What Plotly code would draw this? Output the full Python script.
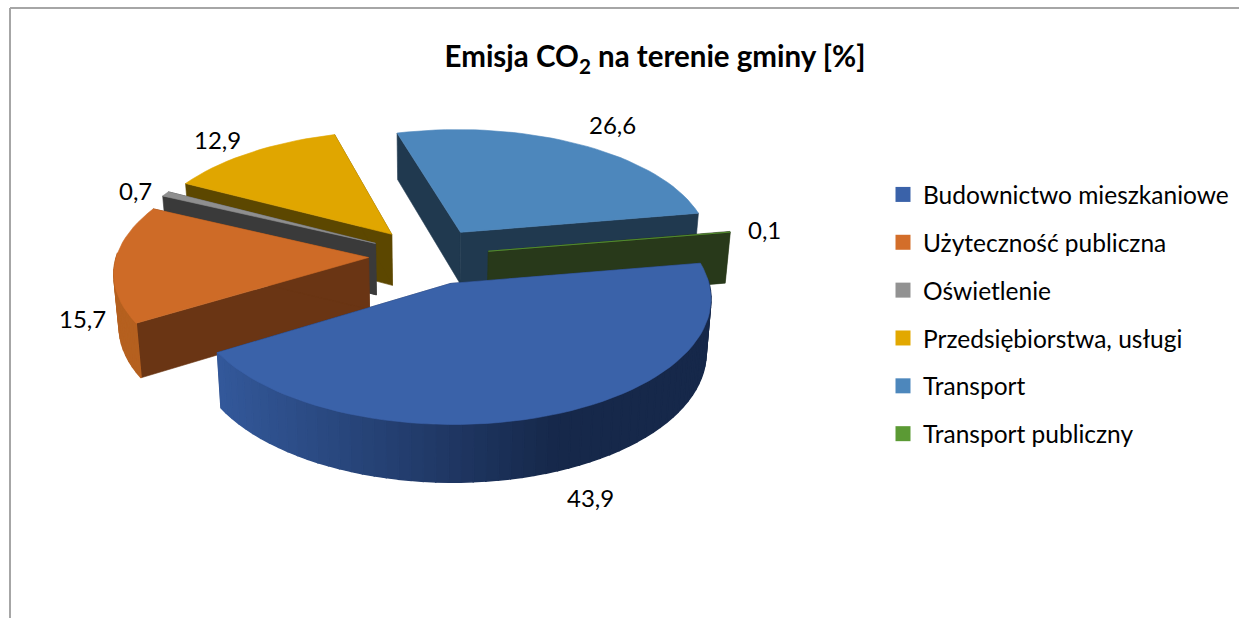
import math
import plotly.graph_objects as go

# ---- data ----
categories = ["Budownictwo mieszkaniowe", "Użyteczność publiczna", "Oświetlenie",
              "Przedsiębiorstwa, usługi", "Transport", "Transport publiczny"]
values = [43.9, 15.7, 0.7, 12.9, 26.6, 0.1]
title_text = "Emisja CO<sub>2</sub> na terenie gminy [%]"

# ---- styles ----
top_colors = ["#3A62A9", "#CE6B27", "#8F8F8F", "#E0A600", "#4D87BC", "#5B9A34"]
wall_colors = ["#1A2E55", "#6A3514", "#3A3A3A", "#5C4700", "#20394F", "#28391A"]
outer_colors = ["#1A2E55", "#B5601F", "#3A3A3A", "#5C4700", "#20394F", "#28391A"]
legend_colors = ["#3A62A9", "#D36E2A", "#929292", "#E2A800", "#4D87BC", "#5B9A34"]
label_xy = [(590, 497), (82, 318), (135, 190), (217, 139), (612, 124), (764, 229)]

# ---- projection ----
CX, CY, A, B, K = 429, 256, 252, 119, 0.11
EXPLODE = 0.24
START_DEG = 9.5
DEPTH = 52


def proj(X, Y):
    s = 1 / (1 + K * Y)
    return CX + A * X * s, CY - B * Y * s


def lower(X, Y):
    x, y = proj(X, Y)
    return CX + (x - CX) * 0.983, y + DEPTH * (1 - 0.09 * Y)


def mix(c1, c2, t):
    a = [int(c1[i:i + 2], 16) for i in (1, 3, 5)]
    b = [int(c2[i:i + 2], 16) for i in (1, 3, 5)]
    return "#%02x%02x%02x" % tuple(round(p + (q - p) * t) for p, q in zip(a, b))


fig = go.Figure()


def poly(pts, color, lw=0.6):
    xs = [p[0] for p in pts] + [pts[0][0]]
    ys = [p[1] for p in pts] + [pts[0][1]]
    fig.add_trace(go.Scatter(x=xs, y=ys, mode="lines", fill="toself", fillcolor=color,
                             line=dict(color=color, width=lw), hoverinfo="skip",
                             showlegend=False))


# ---- slices (paint order: back to front) ----
total = sum(values)
spans = []
a0 = START_DEG
for v in values:
    a1 = a0 - 360 * v / total
    spans.append((a0, a1))
    a0 = a1

for i in [4, 3, 2, 1, 5, 0]:
    a0, a1 = spans[i]
    mid = math.radians((a0 + a1) / 2)
    ox, oy = EXPLODE * math.cos(mid), EXPLODE * math.sin(mid)
    n = max(3, int(abs(a1 - a0) / 2.5))
    angs = [math.radians(a0 + (a1 - a0) * j / n) for j in range(n + 1)]
    rim = [(ox + math.cos(t), oy + math.sin(t)) for t in angs]
    apex = (ox, oy)
    # radial walls
    for end in (rim[0], rim[-1]):
        poly([proj(*apex), proj(*end), lower(*end), lower(*apex)], wall_colors[i])
    # outer wall: only the front-facing part of the rim is visible
    for j in range(n):
        if math.sin(angs[j]) > 0 and math.sin(angs[j + 1]) > 0:
            continue
        p, q = rim[j], rim[j + 1]
        xm = proj(*p)[0]
        if i == 0:
            col = mix("#33589A", "#16284A", min(1, max(0, (xm - 222) / 340)))
        else:
            col = outer_colors[i]
        poly([proj(*p), proj(*q), lower(*q), lower(*p)], col, lw=1.5)
    # top surface
    poly([proj(*apex)] + [proj(*r) for r in rim], top_colors[i])

# ---- legend entries ----
for name, col in zip(categories, legend_colors):
    fig.add_trace(go.Scatter(x=[None], y=[None], mode="markers", name=name, legendgroup=name,
                             marker=dict(symbol="square", size=15, color=col)))

# ---- data labels ----
for v, (lx, ly) in zip(values, label_xy):
    fig.add_annotation(x=lx, y=ly, text=f"{v:.1f}".replace(".", ","), showarrow=False,
                       font=dict(family="Lato", size=24, color="#000000"),
                       xanchor="center", yanchor="middle")

fig.update_layout(
    width=1239, height=618, autosize=False,
    margin=dict(l=0, r=0, t=0, b=0),
    paper_bgcolor="white", plot_bgcolor="white",
    title=dict(text=title_text, x=655 / 1239, y=1 - 57 / 618, xanchor="center", yanchor="middle",
               font=dict(family="Lato", size=29.5, color="#000000", weight="bold")),
    xaxis=dict(range=[0, 1239], visible=False, fixedrange=True),
    yaxis=dict(range=[618, 0], visible=False, fixedrange=True),
    legend=dict(x=883 / 1239, y=1 - 172 / 618, xanchor="left", yanchor="top",
                font=dict(family="Lato", size=24.5, color="#000000"),
                tracegroupgap=13, itemwidth=30, bgcolor="rgba(0,0,0,0)"),
    shapes=[
        dict(type="line", xref="x", yref="y", x0=10, x1=10, y0=8, y1=618,
             line=dict(color="#a6a6a6", width=2)),
        dict(type="line", xref="x", yref="y", x0=10, x1=1239, y0=8, y1=8,
             line=dict(color="#a6a6a6", width=2)),
    ],
)
fig.write_html("out.html", config={"displayModeBar": False},
               post_script="document.body.style.margin='0';document.body.style.overflow='hidden';")
